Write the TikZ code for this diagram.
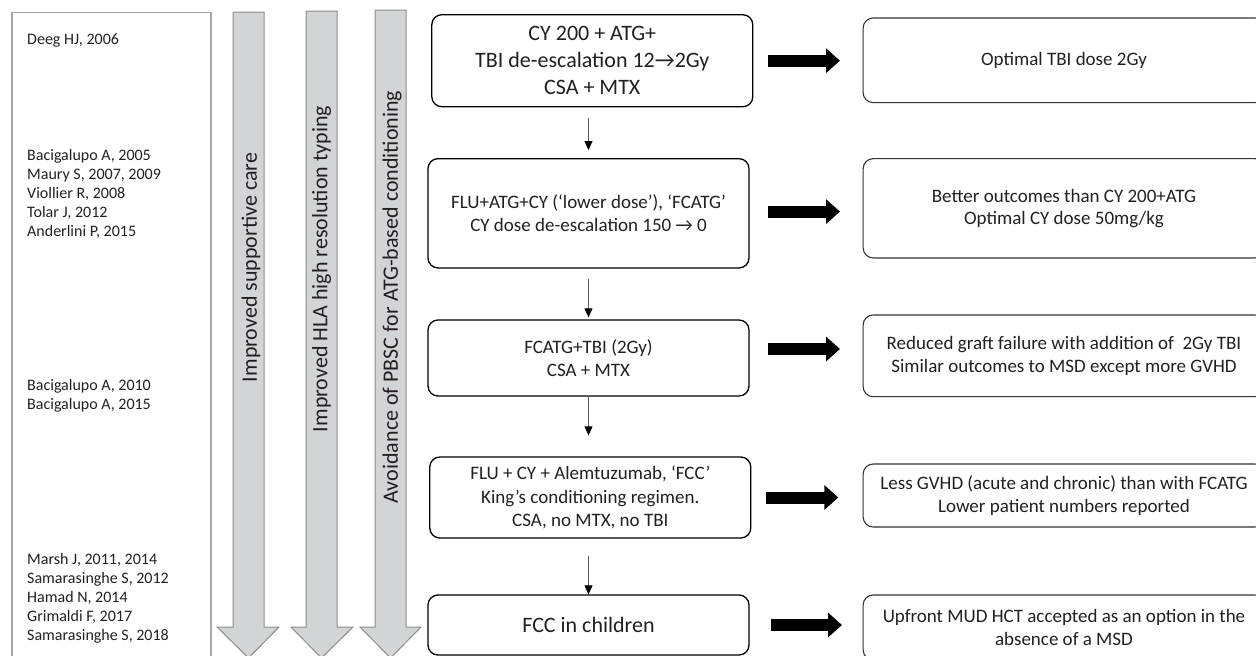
\documentclass[tikz,border=0pt]{standalone}
\usepackage{fontspec}
\setmainfont{Carlito}
\usetikzlibrary{arrows.meta,calc}
\definecolor{txt}{HTML}{231F20}
\definecolor{grayfill}{HTML}{D3D4D6}
\definecolor{grayline}{HTML}{8C8C8C}
\definecolor{boxgray}{HTML}{A6A6A6}
\begin{document}
\begin{tikzpicture}[x=1pt,y=-1pt,
  every node/.style={text=txt, inner sep=0pt},
  midbox/.style={draw=black, line width=1.3pt, rounded corners=10pt, minimum width=321pt, align=center, font=\fontsize{19}{23.5}\selectfont},
  resbox/.style={draw=black!80, line width=1.1pt, rounded corners=10pt, minimum width=401.7pt, align=center, font=\fontsize{19}{22.5}\selectfont},
  refs/.style={anchor=west, align=left, font=\fontsize{16}{19}\selectfont},
  vlabel/.style={rotate=90, font=\fontsize{22}{26}\selectfont},
  bigarrow/.style={line width=12pt, draw=black, -{Triangle[length=14pt,width=24pt]}},
  thinarrow/.style={draw=black!65, line width=0.9pt, -{Triangle[length=9pt,width=8pt,color=black]}},
  grayarrow/.style={draw=grayline, fill=grayfill, line width=1pt},
  refbox/.style={draw=boxgray, line width=1.2pt}]
\useasboundingbox (0,0) rectangle (1256,656);
\clip (0,0) rectangle (1256,656);

% left reference box
\draw[refbox] (12,12.7) rectangle (211,670);
\node[refs] (r1) at (27,40.7) {Deeg HJ, 2006};
\node[refs] (r2) at (27,194) {Bacigalupo A, 2005\\Maury S, 2007, 2009\\Viollier R, 2008\\Tolar J, 2012\\Anderlini P, 2015};
\node[refs] (r3) at (27,396.3) {Bacigalupo A, 2010\\Bacigalupo A, 2015};
\node[refs] (r4) at (27,598) {Marsh J, 2011, 2014\\Samarasinghe S, 2012\\Hamad N, 2014\\Grimaldi F, 2017\\Samarasinghe S, 2018};

% grey vertical arrows
\draw[grayarrow] (233,12) -- (264,12) -- (264,627) -- (279,627) -- (248.5,658) -- (217,627) -- (233,627) -- cycle;
\draw[grayarrow] (306,11) -- (337,11) -- (337,627) -- (353,627) -- (321.5,658) -- (291,627) -- (306,627) -- cycle;
\draw[grayarrow] (375,10) -- (406,10) -- (406,627) -- (421,627) -- (390.5,658) -- (360,627) -- (375,627) -- cycle;
\node[vlabel] (v1) at (251,267.5) {Improved supportive care};
\node[vlabel] (v2) at (321.5,269) {Improved HLA high resolution typing};
\node[vlabel] (v3) at (392,297) {Avoidance of PBSC for ATG-based conditioning};

% middle column
\node[midbox, minimum height=92pt, font=\fontsize{22}{27}\selectfont] (M1) at (592.3,60.7) {CY 200 + ATG+\\TBI de-escalation 12→2Gy\\CSA + MTX};
\node[midbox, minimum height=109.3pt] (M2) at (588.5,213.3) {FLU+ATG+CY (‘lower dose’), ‘FCATG’\\CY dose de-escalation 150 → 0};
\node[midbox, minimum height=76pt] (M3) at (588.5,358) {FCATG+TBI (2Gy)\\CSA + MTX};
\node[midbox, minimum height=81pt] (M4) at (590.3,497.5) {FLU + CY + Alemtuzumab, ‘FCC’\\King’s conditioning regimen.\\CSA, no MTX, no TBI};
\node[midbox, minimum height=60pt, font=\fontsize{22}{27}\selectfont] (M5) at (588.5,625) {FCC in children};

\draw[thinarrow, shorten <=11pt, shorten >=8pt] (M2.north |- M1.south) -- (M2.north);
\draw[thinarrow, shorten <=10pt, shorten >=2pt] (M2.south) -- (M3.north);
\draw[thinarrow, shorten >=21pt] (M3.south) -- (M3.south |- M4.north);
\draw[thinarrow, shorten <=17pt] (M5.north |- M4.south) -- (M5.north);

% right column
\node[resbox, minimum height=84.7pt] (R1) at (1064,60.3) {Optimal TBI dose 2Gy};
\node[resbox, minimum height=99.3pt] (R2) at (1064,208.3) {Better outcomes than CY 200+ATG\\Optimal CY dose 50mg/kg};
\node[resbox, minimum height=81.7pt] (R3) at (1064,355.8) {Reduced graft failure with addition of~ 2Gy TBI\\Similar outcomes to MSD except more GVHD};
\node[resbox, minimum height=63pt] (R4) at (1064,495.5) {Less GVHD (acute and chronic) than with FCATG\\Lower patient numbers reported};
\node[resbox, minimum height=65pt] (R5) at (1064,627.5) {Upfront MUD HCT accepted as an option in the\\absence of a MSD};

% thick arrows
\draw[bigarrow, shorten <=15pt, shorten >=22.6pt] (M1.east) -- (M1.east -| R1.west);
\draw[bigarrow, shorten <=18.7pt, shorten >=22.6pt] ([yshift=1.7pt]M2.east) -- ([yshift=1.7pt]M2.east -| R2.west);
\draw[bigarrow, shorten <=18.7pt, shorten >=22.6pt] ([yshift=9pt]M3.east) -- ([yshift=9pt]M3.east -| R3.west);
\draw[bigarrow, shorten <=15pt, shorten >=24.3pt] (M4.east) -- (M4.east -| R4.west);
\draw[bigarrow, shorten <=21pt, shorten >=20.6pt] (M5.east) -- (M5.east -| R5.west);
\end{tikzpicture}
\end{document}
